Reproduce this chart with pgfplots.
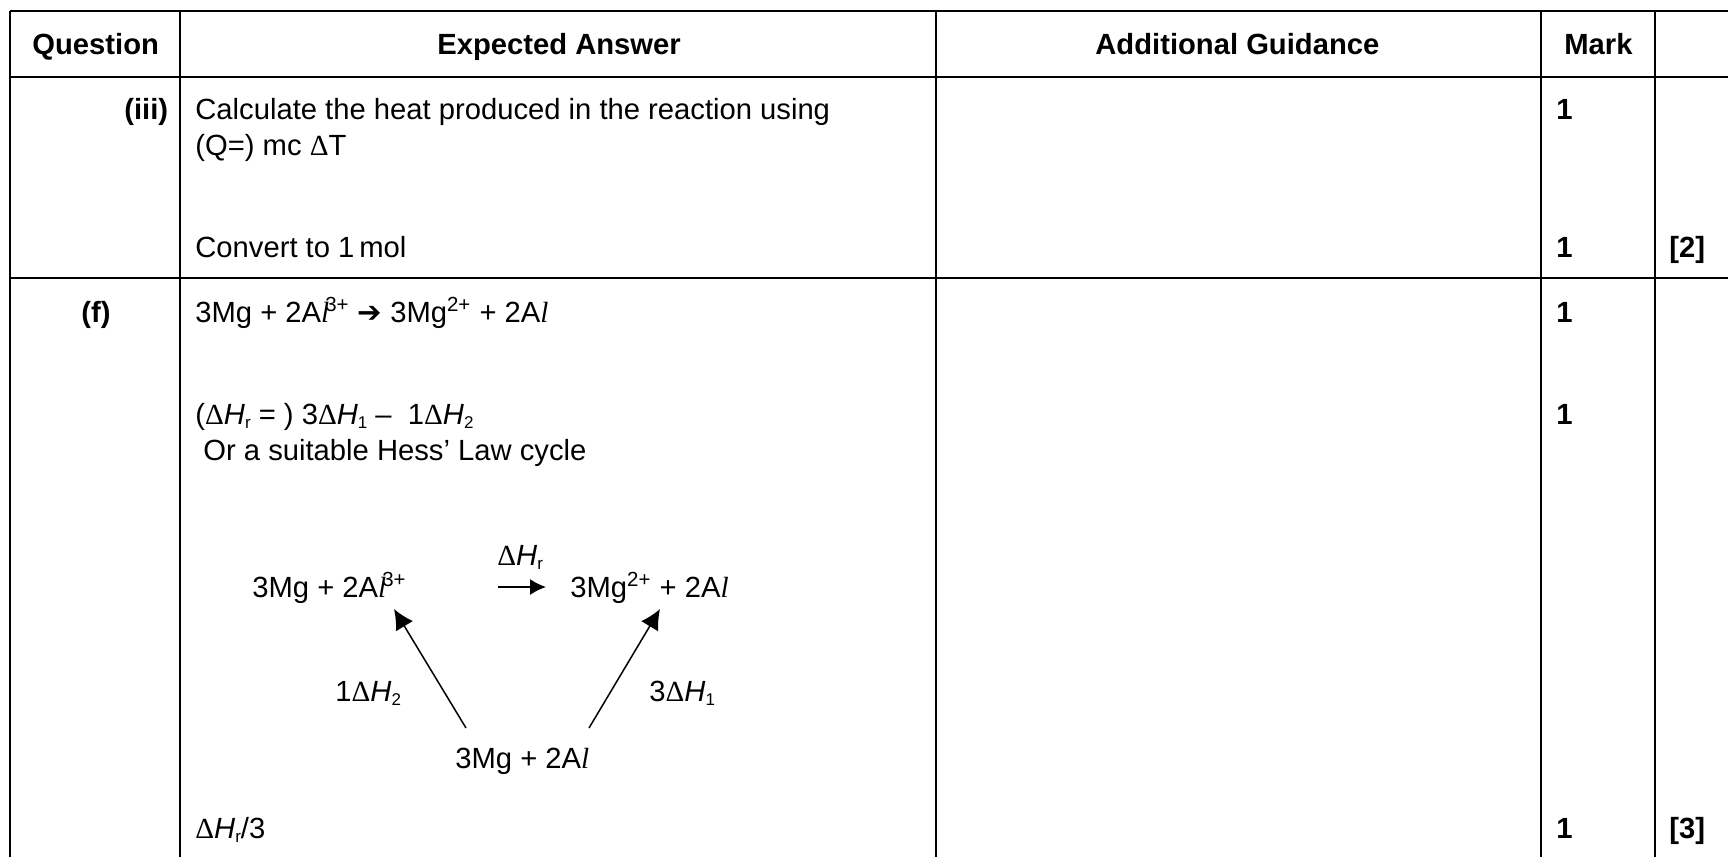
\documentclass[border=0pt]{standalone}
\usepackage{fontspec}
\setmainfont{Liberation Sans}
\newfontfamily\serif{Liberation Serif}
\newfontfamily\dejavu{DejaVu Sans}
\usepackage{pgfplots}
\pgfplotsset{compat=1.18}
\usetikzlibrary{arrows.meta}
\newcommand{\txt}[3]{\node[anchor=base west,inner sep=0pt,font=\fontsize{14.6}{17}\selectfont] at (axis cs:#1,#2) {#3};}
\newcommand{\al}{{\serif\itshape l}}
\newcommand{\dH}[1]{{\serif Δ}\textit{H}\raisebox{-2pt}{\fontsize{8.5}{9}\selectfont #1}}
\pgfplotsset{rule/.style={black, line width=1.1pt, no markers}}
\pgfplotsset{thin rule/.style={black, line width=0.75pt, no markers}}
\begin{document}
\begin{tikzpicture}
\begin{axis}[
  scale only axis,
  width=864pt, height=428.5pt,
  xmin=0, xmax=1728, ymin=0, ymax=857,
  y dir=reverse,
  hide axis,
]
  % keeps the page as large as the axis
  \addplot[draw=none, no markers] coordinates {(0,0) (1728,857)};
  % table rules
  \addplot[rule] coordinates {(10,11) (1728,11)};
  \addplot[rule] coordinates {(10,77) (1728,77)};
  \addplot[rule] coordinates {(10,278) (1728,278)};
  \addplot[rule] coordinates {(10,11) (10,857)};
  \addplot[rule] coordinates {(180,11) (180,857)};
  \addplot[rule] coordinates {(936,11) (936,857)};
  \addplot[rule] coordinates {(1541,11) (1541,857)};
  \addplot[rule] coordinates {(1655,11) (1655,857)};
  % cycle arrows
  \addplot[thin rule,-{Latex[length=8pt,width=8pt]}] coordinates {(498,587) (546,587)};
  \addplot[thin rule,-{Latex[length=10pt,width=10pt]}] coordinates {(466,728) (394,609)};
  \addplot[thin rule,-{Latex[length=10pt,width=10pt]}] coordinates {(589,728) (660,609)};
  % header
  \txt{32}{54}{\textbf{Question}}
  \txt{437}{54}{\textbf{Expected Answer}}
  \txt{1095}{54}{\textbf{Additional Guidance}}
  \txt{1564}{54}{\textbf{Mark}}
  % first row
  \txt{124}{119}{\textbf{(iii)}}
  \txt{195}{119}{Calculate the heat produced in the reaction using}
  \txt{195}{155}{(Q=) mc {\serif Δ}T}
  \txt{195}{257}{Convert to 1\,mol}
  \txt{1556}{119}{\textbf{1}}
  \txt{1556}{257}{\textbf{1}}
  \txt{1669}{257}{\textbf{[2]}}
  % second row
  \txt{81}{322}{\textbf{(f)}}
  \txt{195}{322}{3Mg + 2A\al\kern-2pt\textsuperscript{3+} {\dejavu ➔} 3Mg\textsuperscript{2+} + 2A\al}
  \txt{195}{424}{({\dH{r}} = ) 3\dH{1} –\ \ 1\dH{2}}
  \txt{203}{460}{Or a suitable Hess’ Law cycle}
  \txt{252}{597}{3Mg + 2A\al\kern-2pt\textsuperscript{3+}}
  \txt{497}{565}{\dH{r}}
  \txt{570}{597}{3Mg\textsuperscript{2+} + 2A\al}
  \txt{335}{701}{1\dH{2}}
  \txt{649}{701}{3\dH{1}}
  \txt{455}{768}{3Mg + 2A\al}
  \txt{195}{838}{\dH{r}/3}
  \txt{1556}{322}{\textbf{1}}
  \txt{1556}{424}{\textbf{1}}
  \txt{1556}{838}{\textbf{1}}
  \txt{1669}{838}{\textbf{[3]}}
\end{axis}
\end{tikzpicture}
\end{document}
